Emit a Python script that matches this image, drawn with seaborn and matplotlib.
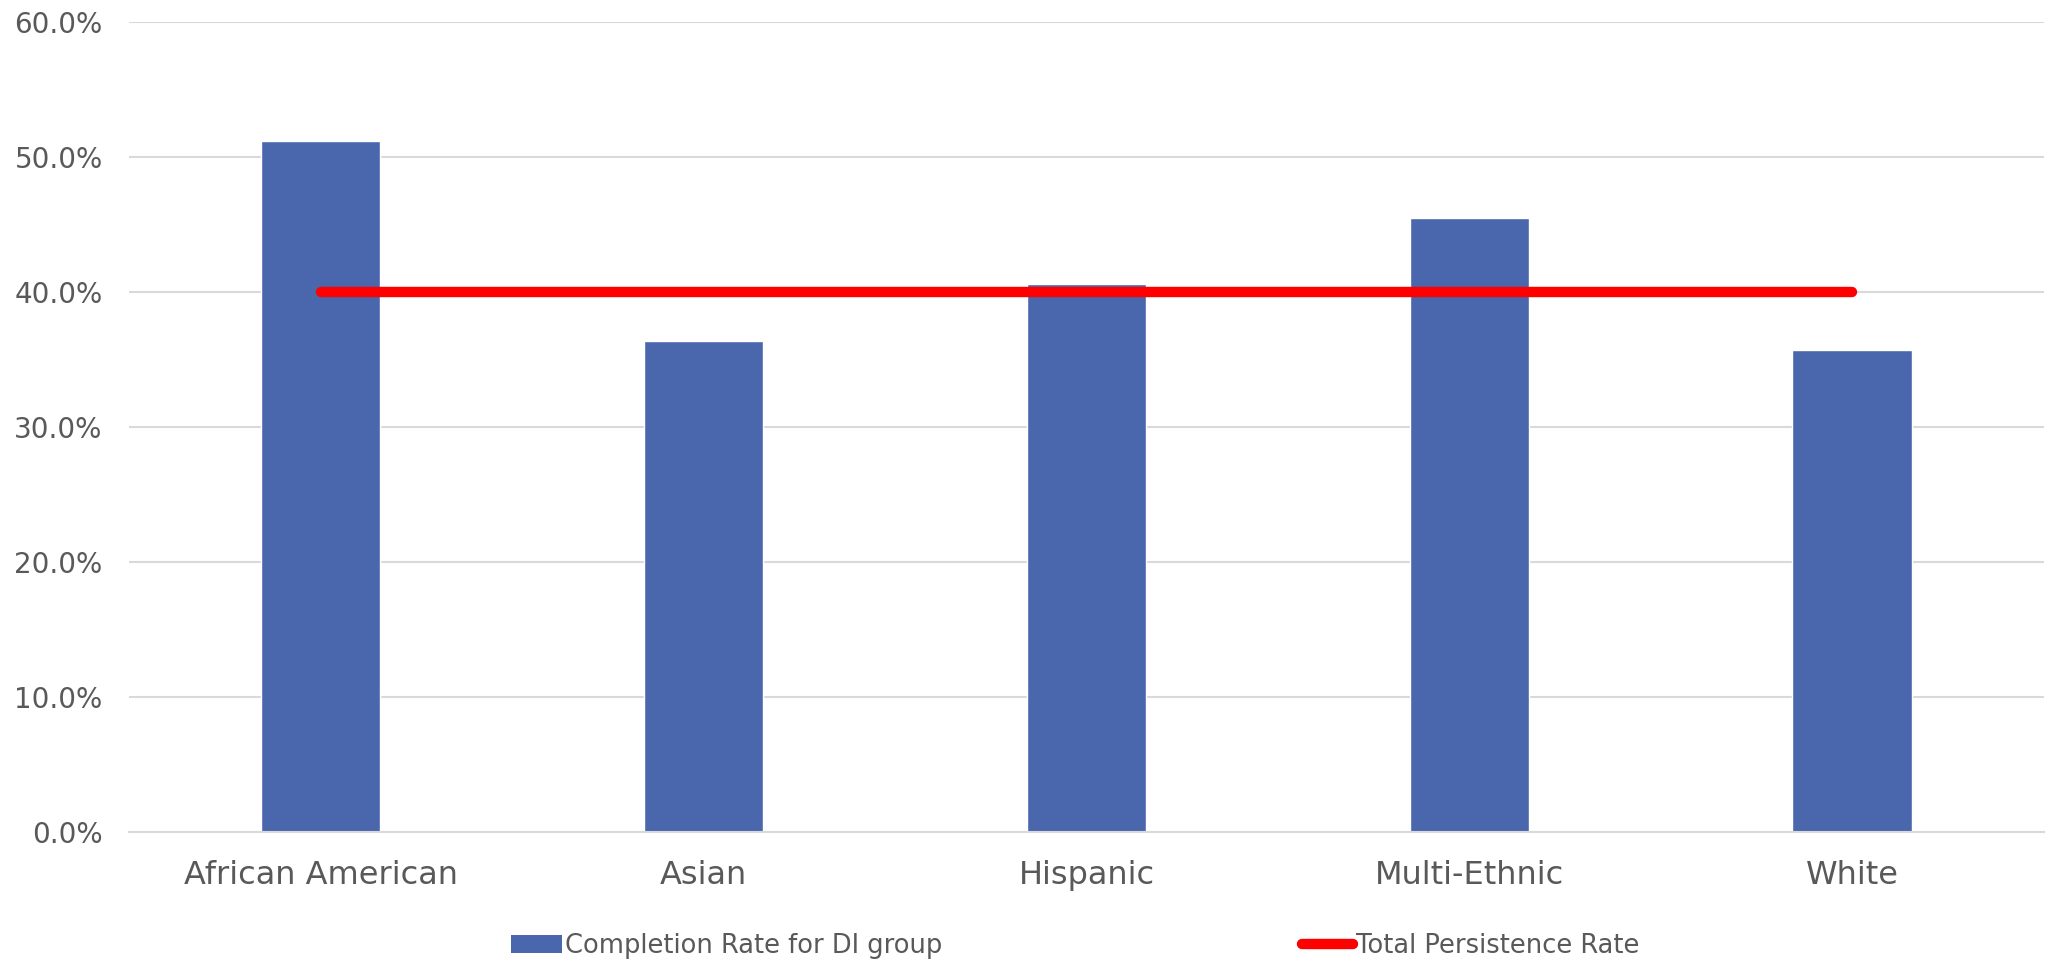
import numpy as np
import pandas as pd
import matplotlib
matplotlib.use("Agg")
import matplotlib.pyplot as plt
import seaborn as sns
from matplotlib.ticker import PercentFormatter
from matplotlib.patches import Patch
from matplotlib.lines import Line2D

# Data
groups = ["African American", "Asian", "Hispanic", "Multi-Ethnic", "White"]
completion_rate = [51.2, 36.4, 40.6, 45.5, 35.7]
persistence_rate = [40.0, 40.0, 40.0, 40.0, 40.0]

df = pd.DataFrame({"group": groups, "completion": completion_rate})

sns.set_theme(style="white")
plt.rcParams["font.family"] = ["DejaVu Sans"]

bar_color = "#4A67AD"
text_color = "#595959"

fig = plt.figure(figsize=(20.48, 9.63), dpi=100)
ax = fig.add_axes([0.063, 0.136, 0.935, 0.841])

sns.barplot(data=df, x="group", y="completion", color=bar_color,
            width=0.313, saturation=1, ax=ax, zorder=2)
ax.plot(np.arange(len(groups)), persistence_rate, color="#FF0000",
        linewidth=7.5, solid_capstyle="round", zorder=3)

ax.set_ylim(0, 60)
ax.set_xlim(-0.5, len(groups) - 0.5)
ax.set_yticks(np.arange(0, 61, 10))
ax.yaxis.set_major_formatter(PercentFormatter(decimals=1))
ax.yaxis.grid(True, color="#D9D9D9", linewidth=1.5, zorder=0)
ax.set_axisbelow(True)
for s in ["top", "right", "left"]:
    ax.spines[s].set_visible(False)
ax.spines["bottom"].set_color("#D9D9D9")
ax.spines["bottom"].set_linewidth(1.5)
ax.set_xlabel("")
ax.set_ylabel("")
ax.tick_params(axis="y", labelsize=20, colors=text_color, length=0, pad=19)
ax.tick_params(axis="x", labelsize=23, colors=text_color, length=0, pad=20)

handles = [Patch(facecolor=bar_color, edgecolor="none"),
           Line2D([0], [0], color="#FF0000", linewidth=7.5, solid_capstyle="round")]
labels = ["Completion Rate for DI group", "Total Persistence Rate"]
leg = fig.legend(handles, labels, loc="lower center", ncol=2, frameon=False,
                 bbox_to_anchor=(0.525, -0.02), fontsize=18.5, labelcolor=text_color,
                 handlelength=2.0, handletextpad=0.1, columnspacing=14)

fig.savefig("out.png", dpi=100, facecolor="white")
